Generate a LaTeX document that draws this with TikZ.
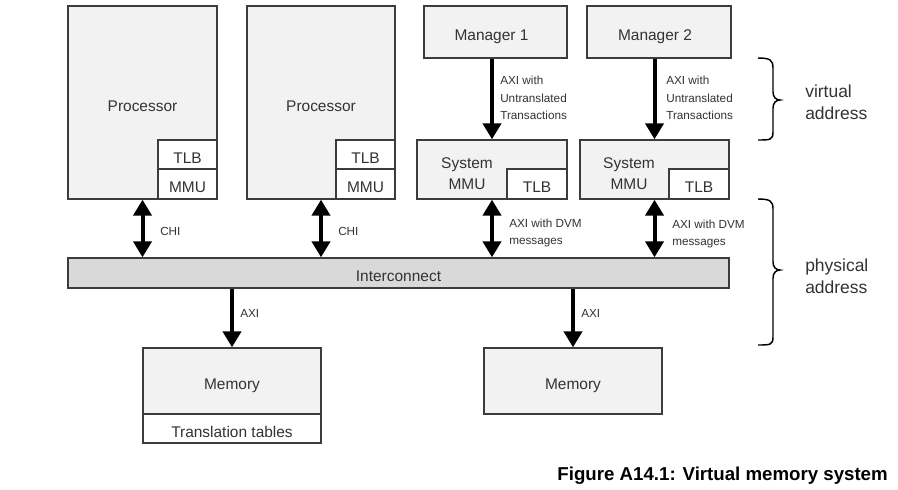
\documentclass[tikz,border=0pt]{standalone}
\usepackage{fontspec}
\setmainfont{Liberation Sans}
\usetikzlibrary{arrows.meta,fit}
\definecolor{boxfill}{HTML}{F2F2F2}
\definecolor{icfill}{HTML}{D9D9D9}
\definecolor{edge}{HTML}{3C3C3C}
\definecolor{txt}{HTML}{333333}
\tikzset{
 box/.style={draw=edge, line width=1pt, fill=boxfill, inner sep=0pt},
 wbox/.style={box, fill=white},
 lbl/.style={text=txt, font=\fontsize{11.6}{15.5}\selectfont, inner sep=0pt, align=center},
 slbl/.style={text=txt, font=\fontsize{11.6}{15.5}\selectfont, inner sep=0pt, text height=8.3pt, text depth=0pt},
 inlbl/.style={slbl, yshift=-2.25pt},
 sm/.style={text=txt, font=\fontsize{8.8}{13.1}\selectfont, inner sep=0pt, align=left, anchor=west},
 big/.style={text=txt, font=\fontsize{13.1}{16.5}\selectfont, inner sep=0pt, align=left, anchor=west},
 arr/.style={line width=3pt, -{Triangle[width=13.5pt,length=12pt]}},
 darr/.style={line width=3pt, {Triangle[width=13.5pt,length=12pt]}-{Triangle[width=13.5pt,length=12pt]}},
 brace/.style={line width=1.1pt, draw=black}
}
\begin{document}
\begin{tikzpicture}[x=0.75pt,y=-0.75pt]
\useasboundingbox[fill=white] (0,0) rectangle (898,489);
% processors
\node[box, fit={(68,6)(217,199)}] (p1) {};
\node[wbox, fit={(158,140)(217,169)}] (p1tlb) {};
\node[wbox, fit={(158,169)(217,199)}] (p1mmu) {};
\node[inlbl] at (p1tlb) {TLB};
\node[inlbl] at (p1mmu) {MMU};
\node[slbl] (p1t) at (142.5,106) {Processor};
\node[box, fit={(247,6)(395,199)}] (p2) {};
\node[wbox, fit={(336,140)(395,169)}] (p2tlb) {};
\node[wbox, fit={(336,169)(395,199)}] (p2mmu) {};
\node[inlbl] at (p2tlb) {TLB};
\node[inlbl] at (p2mmu) {MMU};
\node[slbl] (p2t) at (321,106) {Processor};
% managers
\node[box, fit={(424,6)(567,58)}] (m1) {};
\node[inlbl, xshift=-3pt] at (m1) {Manager 1};
\node[box, fit={(587,6)(731,58)}] (m2) {};
\node[inlbl, xshift=-3pt] at (m2) {Manager 2};
% system MMUs
\node[box, fit={(417,140)(567,199)}] (s1) {};
\node[wbox, fit={(507,169)(567,199)}] (s1tlb) {};
\node[inlbl] at (s1tlb) {TLB};
\node[lbl] (s1t) at (467,174) {System\\MMU};
\node[box, fit={(580,140)(729,199)}] (s2) {};
\node[wbox, fit={(669,169)(729,199)}] (s2tlb) {};
\node[inlbl] at (s2tlb) {TLB};
\node[lbl] (s2t) at (629,174) {System\\MMU};
% interconnect
\node[box, fill=icfill, fit={(68,258)(729,288)}] (ic) {};
\node[inlbl] at (ic) {Interconnect};
% memories
\node[box, fit={(143,348)(321,414)}] (mem1) {};
\node[inlbl] at (mem1) {Memory};
\node[wbox, fit={(143,414)(321,443)}] (tt) {};
\node[inlbl] at (tt) {Translation tables};
\node[box, fit={(484,348)(662,414)}] (mem2) {};
\node[inlbl] at (mem2) {Memory};
% arrows
\draw[darr] (p1.south) -- (p1.south |- ic.north);
\draw[darr] (p2.south) -- (p2.south |- ic.north);
\draw[arr] (m1.south -| s1.north) -- (s1.north);
\draw[arr] (m2.south -| s2.north) -- (s2.north);
\draw[darr] (s1.south) -- (s1.south |- ic.north);
\draw[darr] (s2.south) -- (s2.south |- ic.north);
\draw[arr] (ic.south -| mem1.north) -- (mem1.north);
\draw[arr] (ic.south -| mem2.north) -- (mem2.north);
% labels
\node[sm] (l1) at (160,231) {CHI};
\node[sm] (l2) at (338,231) {CHI};
\node[sm] (l3) at (500,98) {AXI with\\Untranslated\\Transactions};
\node[sm] (l4) at (666,98) {AXI with\\Untranslated\\Transactions};
\node[sm] (l5) at (509,233) {AXI with DVM\\messages};
\node[sm] (l6) at (672,234) {AXI with DVM\\messages};
\node[sm] (l7) at (240,313.5) {AXI};
\node[sm] (l8) at (581,313.5) {AXI};
% braces
\draw[brace] (758,58) .. controls (770,58) and (773,60) .. (773,68) -- (773,92) .. controls (773,97) and (776,100) .. (780,100) .. controls (776,100) and (773,103) .. (773,108) -- (773,132) .. controls (773,140) and (770,140) .. (758,140);
\draw[brace] (758,199) .. controls (770,199) and (773,201) .. (773,209) -- (773,262) .. controls (773,267) and (776,270) .. (780,270) .. controls (776,270) and (773,273) .. (773,278) -- (773,337) .. controls (773,345) and (770,345) .. (758,345);
\node[big] (va) at (805,102) {virtual\\address};
\node[big] (pa) at (805,276) {physical\\address};
% caption
\node[anchor=east, inner sep=0pt, font=\bfseries\fontsize{14}{16}\selectfont] (cap) at (888,476) {Figure A14.1: Virtual memory system};
\end{tikzpicture}
\end{document}
